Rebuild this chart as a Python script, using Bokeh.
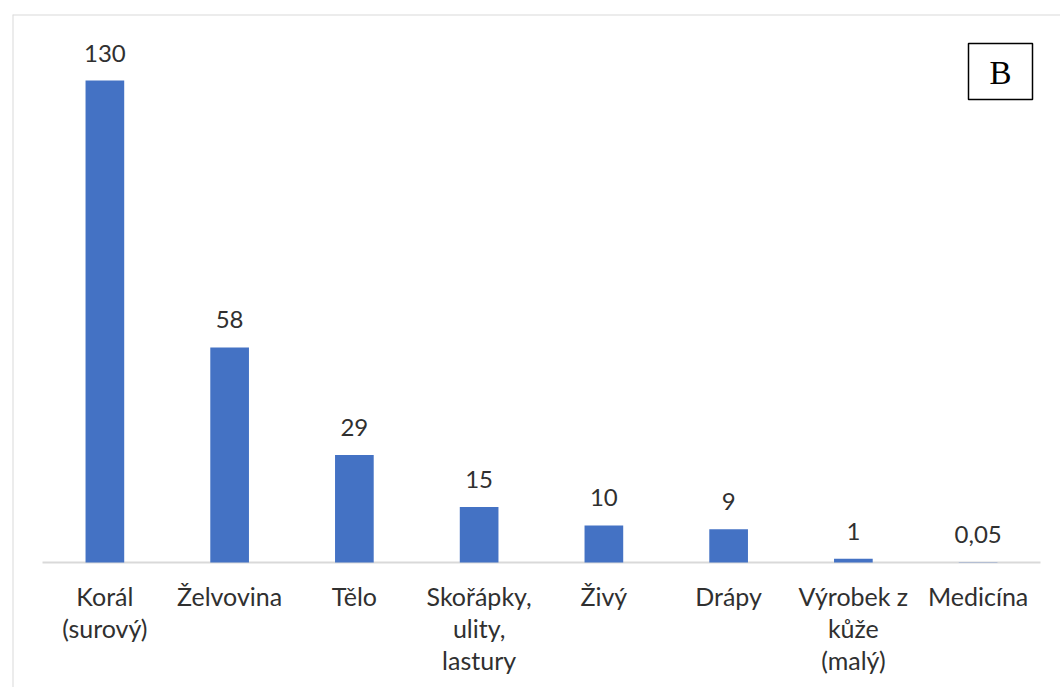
import numpy as np
from bokeh.plotting import figure
from bokeh.models import ColumnDataSource, LabelSet, Label, BoxAnnotation, Range1d, Span
from bokeh.core.properties import value
from bokeh.embed import file_html
from bokeh.resources import INLINE

categories = ["Korál (surový)", "Želvovina", "Tělo", "Skořápky, ulity, lastury",
              "Živý", "Drápy", "Výrobek z kůže (malý)", "Medicína"]
tick_labels = ["Korál\n(surový)", "Želvovina", "Tělo", "Skořápky,\nulity,\nlastury",
               "Živý", "Drápy", "Výrobek z\nkůže\n(malý)", "Medicína"]
values = [130, 58, 29, 15, 10, 9, 1, 0.05]
value_labels = ["130", "58", "29", "15", "10", "9", "1", "0,05"]
panel_letter = "B"

W, H = 1060, 687
FONT = "Lato"
TXT = "#303030"

n = len(categories)
xpos = (np.arange(n) + 0.5).tolist()          # category centres on the x scale
src = ColumnDataSource(dict(x=xpos, val=values, lab=value_labels))

# one row per text line of the category labels
rows = dict(x=[], y=[], text=[], yoff=[])
for i, lab in enumerate(tick_labels):
    for j, line in enumerate(lab.split("\n")):
        rows["x"].append(xpos[i])
        rows["y"].append(0)
        rows["text"].append(line)
        rows["yoff"].append(-(43 + 32 * j))
cat_src = ColumnDataSource(rows)

px_per_cat = 124.75
px_per_unit = 482 / 130
p = figure(width=W, height=H, output_backend="svg", toolbar_location=None,
           x_range=Range1d(-30 / px_per_cat, n + 20 / px_per_cat),
           y_range=Range1d(-(687 - 562) / px_per_unit, (562 - 14) / px_per_unit),
           min_border_left=12, min_border_right=0, min_border_top=14, min_border_bottom=0)
p.outline_line_color = None
p.grid.visible = False
p.xaxis.visible = False
p.yaxis.visible = False
p.background_fill_color = "white"
p.border_fill_color = "white"

# outer light grey frame (top and left edges visible in the crop)
p.add_layout(Span(location=p.y_range.end, dimension="width", line_color="#d9d9d9", line_width=2))
p.add_layout(Span(location=p.x_range.start, dimension="height", line_color="#d9d9d9", line_width=2))

# category axis baseline
p.segment(x0=[0], x1=[n], y0=[0], y1=[0], line_color="#d9d9d9", line_width=2)

p.vbar(x="x", top="val", bottom=0, width=0.31, source=src,
       fill_color="#4472c4", line_color=None)

p.add_layout(LabelSet(x="x", y="val", text="lab", source=src, y_offset=19,
                      text_align="center", text_baseline="alphabetic",
                      text_font=value(FONT), text_font_size="24px", text_color=TXT))

p.add_layout(LabelSet(x="x", y="y", text="text", source=cat_src, y_offset="yoff",
                      text_align="center", text_baseline="alphabetic",
                      text_font=value(FONT), text_font_size="25px", text_color=TXT))

# panel letter box
p.add_layout(BoxAnnotation(left=968, right=1032, top=43, bottom=99,
                           left_units="canvas", right_units="canvas",
                           top_units="canvas", bottom_units="canvas",
                           fill_color="white", fill_alpha=1,
                           line_color="black", line_alpha=1, line_width=1.5))
p.add_layout(Label(x=1000, y=72, x_units="canvas", y_units="canvas", text=panel_letter,
                   text_align="center", text_baseline="alphabetic",
                   text_font="Liberation Serif", text_font_size="33px", text_color="black"))

open("out.html", "w").write(file_html(p, INLINE))
